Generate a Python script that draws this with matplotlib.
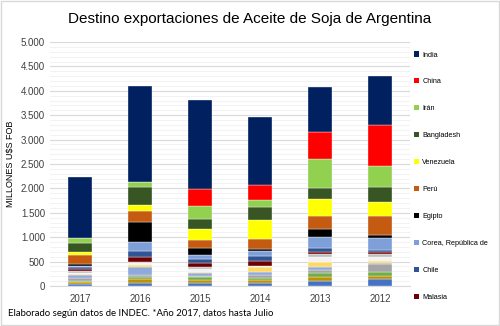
import matplotlib
matplotlib.use("Agg")
import matplotlib.pyplot as plt
from matplotlib.patches import Patch, Rectangle
from matplotlib.ticker import FuncFormatter, MultipleLocator
import numpy as np

# Años (eje X) y exportaciones en millones U$S FOB
years = ["2017", "2016", "2015", "2014", "2013", "2012"]

india = [1265, 1960, 1819, 1388, 909, 991]
china = [0, 0, 362, 314, 560, 854]
iran = [100, 100, 252, 130, 595, 424]
bangladesh = [180, 376, 219, 273, 226, 300]
venezuela = [55, 123, 219, 390, 341, 301]
peru = [180, 225, 164, 211, 274, 377]
egipto = [48, 404, 143, 41, 170, 68]
corea = [30, 184, 82, 96, 219, 246]
chile = [40, 123, 89, 103, 76, 41]
malasia = [30, 103, 69, 102, 47, 47]

# resto de destinos (sin leyenda en el original)
otros_1 = [40, 35, 55, 0, 68, 48]
otros_2 = [20, 40, 55, 30, 90, 100]
otros_3 = [35, 30, 15, 90, 110, 35]
otros_4 = [55, 170, 60, 70, 60, 15]
otros_5 = [50, 35, 35, 65, 68, 170]
otros_6 = [30, 50, 50, 40, 80, 70]
otros_7 = [40, 70, 70, 60, 80, 80]
otros_8 = [40, 68, 56, 55, 100, 132]

# orden de apilado: de abajo hacia arriba
series = [
    ("_o8", otros_8, "#4472C4"),
    ("_o7", otros_7, "#BF9000"),
    ("_o6", otros_6, "#70AD47"),
    ("_o5", otros_5, "#A5A5A5"),
    ("_o4", otros_4, "#8EA9DB"),
    ("_o3", otros_3, "#FFD966"),
    ("_o2", otros_2, "#F2F2F2"),
    ("_o1", otros_1, "#BFBFBF"),
    ("Malasia", malasia, "#6E0000"),
    ("Chile", chile, "#2F5597"),
    ("Corea, República de", corea, "#7F9FD9"),
    ("Egipto", egipto, "#000000"),
    ("Perú", peru, "#C55A11"),
    ("Venezuela", venezuela, "#FFFF00"),
    ("Bangladesh", bangladesh, "#375623"),
    ("Irán", iran, "#92D050"),
    ("China", china, "#FF0000"),
    ("India", india, "#002060"),
]

plt.rcParams["font.family"] = ["Liberation Sans", "DejaVu Sans"]

fig = plt.figure(figsize=(5.0, 3.26), dpi=100)
ax = fig.add_axes([0.10, 0.123, 0.72, 0.748])

x = np.arange(len(years))
bottom = np.zeros(len(years))
handles = []
for name, vals, color in series:
    vals = np.array(vals, dtype=float)
    ax.bar(x, vals, bottom=bottom, width=0.4, color=color,
           edgecolor="#FFFFFF", linewidth=0.25, zorder=3)
    bottom += vals
    if not name.startswith("_"):
        handles.append(Patch(facecolor=color, label=name))

ax.set_xlim(-0.5, len(years) - 0.5)
ax.set_ylim(0, 5000)
ax.yaxis.set_major_locator(MultipleLocator(500))
ax.yaxis.set_minor_locator(MultipleLocator(100))
ax.yaxis.set_major_formatter(FuncFormatter(lambda v, p: f"{int(v):,}".replace(",", ".")))
ax.grid(axis="y", which="major", color="#D9D9D9", linewidth=0.8, zorder=0)
ax.grid(axis="y", which="minor", color="#F0F0F0", linewidth=0.6, zorder=0)
ax.set_axisbelow(True)

ax.set_xticks(x)
ax.set_xticklabels(years)
ax.tick_params(axis="both", which="both", length=0, labelsize=7, colors="#404040")
ax.tick_params(axis="x", pad=6)
for s in ["top", "right", "left"]:
    ax.spines[s].set_visible(False)
ax.spines["bottom"].set_color("#D9D9D9")

ax.set_ylabel("MILLONES U$S FOB", fontsize=6.5, color="#000000", labelpad=4)

fig.text(0.5, 0.943, "Destino exportaciones de Aceite de Soja de Argentina",
         ha="center", va="center", fontsize=11,
         family=["Liberation Sans Narrow", "Liberation Sans", "DejaVu Sans"])

fig.text(0.016, 0.025, "Elaborado según datos de INDEC. *Año 2017, datos hasta Julio",
         ha="left", va="bottom", fontsize=6.9, family=["Lato", "DejaVu Sans"])

leg = fig.legend(handles=handles[::-1], loc="upper left", bbox_to_anchor=(0.823, 0.851),
                 fontsize=5.2, frameon=False, handlelength=0.7, handleheight=0.7,
                 handletextpad=0.4, labelspacing=2.75, borderaxespad=0)

fig.patches.append(Rectangle((0.001, 0.002), 0.997, 0.995, transform=fig.transFigure,
                             fill=False, edgecolor="#D9D9D9", linewidth=1))

fig.savefig("out.png", dpi=100)
